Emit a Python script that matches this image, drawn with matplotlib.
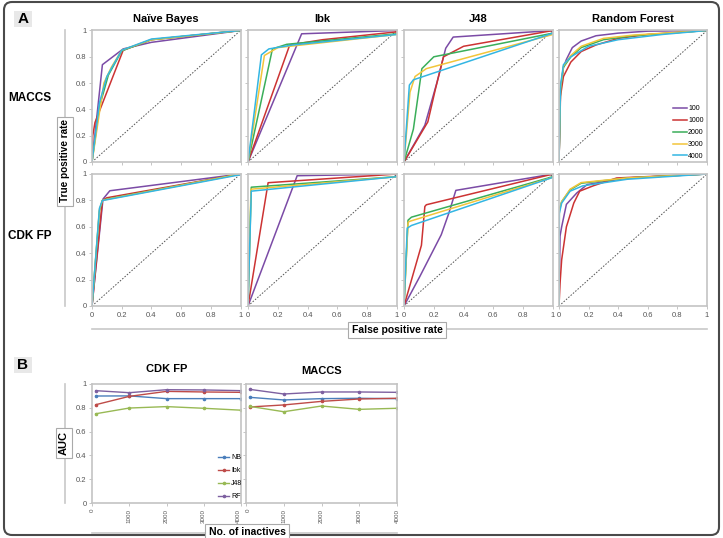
import numpy as np
import matplotlib
matplotlib.use('Agg')
import matplotlib.pyplot as plt
from matplotlib.patches import FancyBboxPatch, Rectangle

plt.rcParams['font.family'] = ['Liberation Sans', 'DejaVu Sans']

# ---- данные ----
inactives = ['100', '1000', '2000', '3000', '4000']
roc_colors = ['#7B4BA6', '#CC3333', '#3AAE5A', '#F2C53A', '#33B6E3']

# ROC-кривые (fpr, tpr) для каждого числа неактивных: 100, 1000, 2000, 3000, 4000
nb_maccs = [
    ([0, 0.07, 0.21, 0.4, 1], [0, 0.74, 0.86, 0.91, 1]),
    ([0, 0.005, 0.02, 0.21, 0.4, 1], [0, 0.2, 0.3, 0.85, 0.93, 1]),
    ([0, 0.05, 0.11, 0.2, 0.4, 1], [0, 0.42, 0.66, 0.845, 0.93, 1]),
    ([0, 0.08, 0.13, 0.2, 0.4, 1], [0, 0.6, 0.72, 0.85, 0.93, 1]),
    ([0, 0.05, 0.1, 0.2, 0.4, 1], [0, 0.45, 0.65, 0.85, 0.935, 1]),
]
ibk_maccs = [
    ([0, 0.36, 1], [0, 0.975, 1]),
    ([0, 0.28, 0.5, 1], [0, 0.89, 0.93, 0.99]),
    ([0, 0.164, 0.26, 1], [0, 0.86, 0.895, 0.975]),
    ([0, 0.11, 0.2, 1], [0, 0.81, 0.87, 0.97]),
    ([0, 0.09, 0.14, 0.3, 1], [0, 0.815, 0.86, 0.89, 0.97]),
]
j48_maccs = [
    ([0, 0.14, 0.22, 0.28, 0.33, 1], [0, 0.28, 0.6, 0.865, 0.95, 1]),
    ([0, 0.16, 0.21, 0.265, 0.4, 1], [0, 0.305, 0.55, 0.8, 0.88, 1]),
    ([0, 0.063, 0.12, 0.2, 1], [0, 0.25, 0.71, 0.8, 0.98]),
    ([0, 0.04, 0.074, 0.15, 1], [0, 0.53, 0.65, 0.71, 0.97]),
    ([0, 0.036, 0.063, 1], [0, 0.585, 0.625, 0.98]),
]
rf_maccs = [
    ([0, 0.01, 0.03, 0.05, 0.09, 0.15, 0.25, 0.4, 0.6, 1],
     [0, 0.55, 0.72, 0.78, 0.87, 0.92, 0.96, 0.98, 0.995, 1]),
    ([0, 0.01, 0.03, 0.08, 0.15, 0.25, 0.4, 0.6, 1],
     [0, 0.5, 0.65, 0.76, 0.84, 0.89, 0.94, 0.97, 1]),
    ([0, 0.01, 0.03, 0.08, 0.15, 0.3, 0.5, 1],
     [0, 0.55, 0.72, 0.8, 0.87, 0.93, 0.96, 1]),
    ([0, 0.01, 0.03, 0.08, 0.15, 0.3, 0.5, 1],
     [0, 0.56, 0.73, 0.81, 0.88, 0.94, 0.965, 1]),
    ([0, 0.01, 0.03, 0.08, 0.2, 0.4, 0.7, 1],
     [0, 0.58, 0.74, 0.8, 0.88, 0.93, 0.97, 1]),
]
nb_cdk = [
    ([0, 0.074, 0.12, 1], [0, 0.81, 0.873, 1]),
    ([0, 0.07, 0.1, 1], [0, 0.8, 0.82, 1]),
    ([0, 0.05, 0.07, 0.1, 1], [0, 0.72, 0.8, 0.81, 1]),
    ([0, 0.05, 0.07, 0.1, 1], [0, 0.73, 0.8, 0.808, 1]),
    ([0, 0.05, 0.07, 0.1, 1], [0, 0.74, 0.8, 0.805, 0.995]),
]
ibk_cdk = [
    ([0, 0.33, 1], [0, 0.987, 1]),
    ([0, 0.135, 1], [0, 0.934, 1]),
    ([0, 0.022, 1], [0, 0.9, 0.98]),
    ([0, 0.02, 1], [0, 0.885, 0.98]),
    ([0, 0.022, 1], [0, 0.87, 0.98]),
]
j48_cdk = [
    ([0, 0.106, 0.25, 0.3, 0.348, 1], [0, 0.223, 0.54, 0.7, 0.876, 1]),
    ([0, 0.117, 0.14, 0.15, 1], [0, 0.46, 0.754, 0.767, 1]),
    ([0, 0.027, 0.05, 1], [0, 0.65, 0.673, 0.98]),
    ([0, 0.027, 0.034, 1], [0, 0.63, 0.64, 0.975]),
    ([0, 0.022, 0.05, 1], [0, 0.59, 0.61, 0.975]),
]
rf_cdk = [
    ([0, 0.007, 0.018, 0.05, 0.12, 0.19, 0.46, 1],
     [0, 0.53, 0.6, 0.77, 0.856, 0.92, 0.97, 1]),
    ([0, 0.007, 0.018, 0.05, 0.1, 0.14, 0.23, 0.39, 1],
     [0, 0.17, 0.35, 0.6, 0.78, 0.87, 0.91, 0.97, 1]),
    ([0, 0.002, 0.018, 0.075, 0.15, 0.46, 1],
     [0, 0.73, 0.79, 0.88, 0.93, 0.97, 1]),
    ([0, 0.002, 0.018, 0.075, 0.15, 0.46, 1],
     [0, 0.72, 0.79, 0.885, 0.935, 0.97, 1]),
    ([0, 0.002, 0.018, 0.075, 0.16, 0.46, 1],
     [0, 0.70, 0.78, 0.87, 0.91, 0.96, 1]),
]

# AUC против числа неактивных
n_inactives = [100, 1000, 2000, 3000, 4000]
auc_labels = ['NB', 'Ibk', 'J48', 'RF']
auc_colors = ['#4A7EBB', '#BE4B48', '#98B954', '#7D60A0']
auc_cdk_nb = [0.899, 0.9, 0.877, 0.877, 0.877]
auc_cdk_ibk = [0.826, 0.896, 0.938, 0.933, 0.93]
auc_cdk_j48 = [0.75, 0.798, 0.81, 0.796, 0.78]
auc_cdk_rf = [0.944, 0.927, 0.952, 0.95, 0.944]
auc_maccs_nb = [0.888, 0.866, 0.877, 0.88, 0.877]
auc_maccs_ibk = [0.807, 0.824, 0.854, 0.874, 0.88]
auc_maccs_j48 = [0.812, 0.767, 0.815, 0.787, 0.796]
auc_maccs_rf = [0.955, 0.916, 0.933, 0.933, 0.93]

W, H = 723, 538
fig = plt.figure(figsize=(W / 100, H / 100), dpi=100)

# фон в пиксельных координатах для рамок и подписей
bg = fig.add_axes([0, 0, 1, 1], zorder=-1)
bg.set_xlim(0, W)
bg.set_ylim(H, 0)
bg.axis('off')


def px_axes(x0, y0, x1, y1):
    return fig.add_axes([x0 / W, 1 - y1 / H, (x1 - x0) / W, (y1 - y0) / H])


def style(ax, xlabels, ylabels):
    for s in ax.spines.values():
        s.set_color('#C4C4C4')
        s.set_linewidth(1.2)
    ax.tick_params(length=2, width=0.6, color='#BBBBBB', labelsize=5.5,
                   labelcolor='#555555', pad=2)
    if not xlabels:
        ax.tick_params(labelbottom=False)
    if not ylabels:
        ax.tick_params(labelleft=False)


fmt = ['0', '0.2', '0.4', '0.6', '0.8', '1']
cols = [(92, 240.5), (248, 397), (404, 553), (559, 707)]
rows = [(30.5, 162), (174, 306)]
titles = ['Naïve Bayes', 'Ibk', 'J48', 'Random Forest']
grid = [[nb_maccs, ibk_maccs, j48_maccs, rf_maccs],
        [nb_cdk, ibk_cdk, j48_cdk, rf_cdk]]

for r, (y0, y1) in enumerate(rows):
    for c, (x0, x1) in enumerate(cols):
        ax = px_axes(x0, y0, x1, y1)
        ax.plot([0, 1], [0, 1], color='#555555', lw=0.7, ls=(0, (1.6, 1.6)))
        for (fx, ty), col, lab in zip(grid[r][c], roc_colors, inactives):
            ax.plot(fx, ty, color=col, lw=1.1, label=lab)
        ax.set_xlim(0, 1)
        ax.set_ylim(0, 1)
        ax.set_xticks(np.linspace(0, 1, 6))
        ax.set_yticks(np.linspace(0, 1, 6))
        ax.set_xticklabels(fmt)
        ax.set_yticklabels(fmt)
        style(ax, r == 1, c == 0)
        if r == 0:
            ax.set_title(titles[c], fontsize=8, fontweight='bold', pad=6)
        if r == 0 and c == 3:
            ax.legend(loc='upper left', bbox_to_anchor=(670 / W, 1 - 102 / H),
                      bbox_transform=fig.transFigure, frameon=False,
                      fontsize=5, handlelength=1.9, handletextpad=0.2,
                      labelspacing=0.7, borderpad=0)

# панель B
bcols = [(92, 241), (246, 397)]
btitles = ['CDK FP', 'MACCS']
bdata = [[auc_cdk_nb, auc_cdk_ibk, auc_cdk_j48, auc_cdk_rf],
         [auc_maccs_nb, auc_maccs_ibk, auc_maccs_j48, auc_maccs_rf]]
for c, (x0, x1) in enumerate(bcols):
    ax = px_axes(x0, 384, x1, 503)
    for vals, col, lab in zip(bdata[c], auc_colors, auc_labels):
        ax.plot(n_inactives, vals, color=col, lw=1.0, marker='o', ms=1.6, label=lab)
    ax.set_xlim(0, 4000)
    ax.set_ylim(0, 1)
    ax.set_xticks([0, 1000, 2000, 3000, 4000])
    ax.set_yticks(np.linspace(0, 1, 6))
    ax.set_yticklabels(fmt)
    style(ax, True, c == 0)
    ax.tick_params(axis='x', labelrotation=90, labelsize=4.5)
    xl = ax.get_xticklabels()
    if c == 0:
        xl[-1].set_horizontalalignment('right')
    else:
        xl[0].set_horizontalalignment('left')
    ax.set_title(btitles[c], fontsize=8, fontweight='bold', pad=9 if c == 0 else 7)
    if c == 0:
        ax.legend(loc='upper left', bbox_to_anchor=(215 / W, 1 - 451 / H),
                  bbox_transform=fig.transFigure, frameon=False,
                  fontsize=5, handlelength=1.5, handletextpad=0.3,
                  labelspacing=0.85, borderpad=0)

# рамка вокруг рисунка
bg.add_patch(FancyBboxPatch((4, 2), 715, 533, boxstyle='round,pad=0,rounding_size=8',
                            fc='none', ec='#4A4A4A', lw=1.5))

# метки панелей
for lab, (cx, cy) in [('A', (23, 19)), ('B', (23, 365))]:
    bg.add_patch(Rectangle((cx - 9, cy - 8), 18, 16, fc='#E8E8E8', ec='none'))
    bg.text(cx, cy, lab, ha='center', va='center', fontsize=11, fontweight='bold')

# подписи строк
bg.text(30, 98, 'MACCS', ha='center', va='center', fontsize=8.5, fontweight='bold')
bg.text(30, 236, 'CDK FP', ha='center', va='center', fontsize=8.5, fontweight='bold')

# линии и подписи осей
line_c = '#C8C8C8'
bg.plot([65, 65], [30, 306], color=line_c, lw=1.2)
bg.plot([92, 707], [329, 329], color=line_c, lw=1.2)
bg.plot([65, 65], [384, 503], color=line_c, lw=1.2)
bg.plot([92, 397], [533, 533], color=line_c, lw=1.2)

box = dict(boxstyle='square,pad=0.3', fc='white', ec='#AAAAAA', lw=0.8)
bg.text(65, 161, 'True positive rate', rotation=90, ha='center', va='center',
        fontsize=7.2, fontweight='bold', bbox=box)
bg.text(397, 330, 'False positive rate', ha='center', va='center',
        fontsize=7.5, fontweight='bold', bbox=box)
bg.text(64, 443, 'AUC', rotation=90, ha='center', va='center',
        fontsize=8, fontweight='bold', bbox=box)
bg.text(247, 532, 'No. of inactives', ha='center', va='center',
        fontsize=7.5, fontweight='bold', bbox=box)

fig.savefig('out.png', dpi=100)
